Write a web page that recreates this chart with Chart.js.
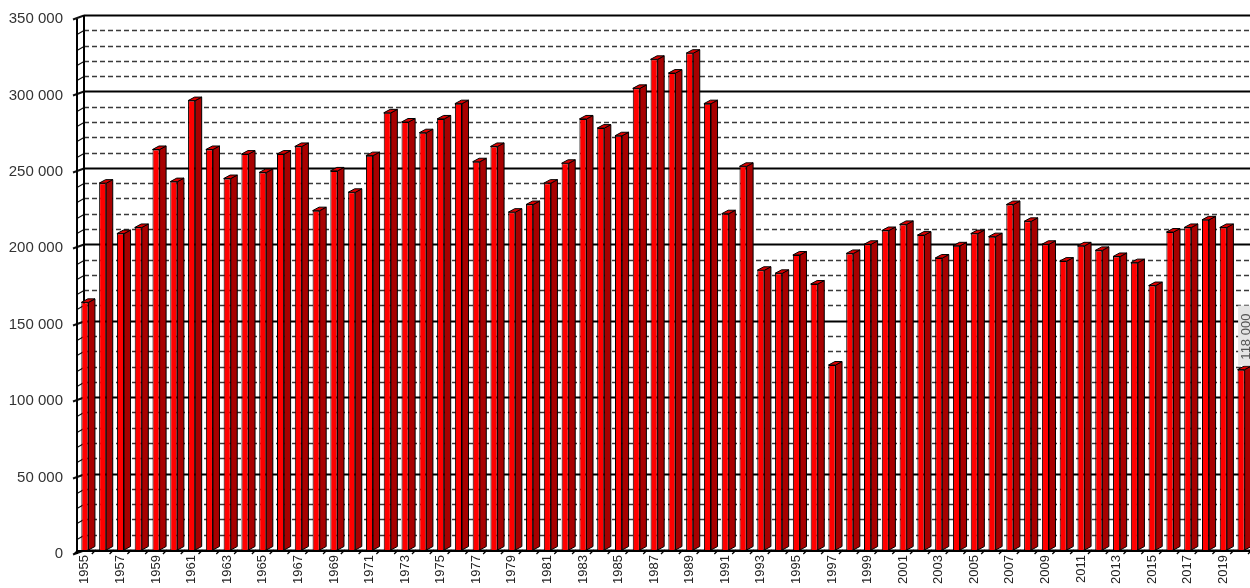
<!DOCTYPE html>
<html>
<head>
    <meta charset="utf-8">
    <title>Yearly totals 1955-2020</title>
    <script src="https://cdn.jsdelivr.net/npm/chart.js"></script>
    <style>
        html, body { margin: 0; padding: 0; background: #fff; overflow: hidden; }
        #wrap { width: 1250px; height: 588px; overflow: hidden; }
    </style>
</head>
<body>
    <div id="wrap"><canvas id="barChart" width="1250" height="588"></canvas></div>

    <script>
        const years = [
            '1955', '1956', '1957', '1958', '1959', '1960', '1961', '1962', '1963', '1964',
            '1965', '1966', '1967', '1968', '1969', '1970', '1971', '1972', '1973', '1974',
            '1975', '1976', '1977', '1978', '1979', '1980', '1981', '1982', '1983', '1984',
            '1985', '1986', '1987', '1988', '1989', '1990', '1991', '1992', '1993', '1994',
            '1995', '1996', '1997', '1998', '1999', '2000', '2001', '2002', '2003', '2004',
            '2005', '2006', '2007', '2008', '2009', '2010', '2011', '2012', '2013', '2014',
            '2015', '2016', '2017', '2018', '2019', '2020'
        ];

        const totals = [
            162000, 240000, 207000, 211000, 262000, 241000, 294000, 262000, 243000, 259000,
            247000, 259000, 264000, 222000, 248000, 234000, 258000, 286000, 280000, 273000,
            282000, 292000, 254000, 264000, 221000, 226000, 240000, 253000, 282000, 276000,
            271000, 302000, 321000, 312000, 325000, 292000, 220000, 251000, 183000, 181000,
            193000, 174000, 121000, 194000, 200000, 209000, 213000, 206000, 191000, 199000,
            207000, 205000, 226000, 215000, 200000, 189000, 199000, 196000, 192000, 188000,
            173000, 208000, 211000, 216000, 211000, 118000
        ];

        // only the last bar carries a value label
        const labelledIndex = [65];

        const yMin = 0;
        const yMax = 350000;
        const yMinorStep = 10000;
        const yMajorStep = 50000;

        function fmt(v) {
            return String(v).replace(/\B(?=(\d{3})+(?!\d))/g, ' ');
        }

        const DEPTH_X = 6.5;
        const DEPTH_Y = 3.5;

        // back wall, gridlines, floor
        const wallPlugin = {
            id: 'wall3d',
            beforeDatasetsDraw(chart) {
                const { ctx, chartArea: a, scales: { x, y } } = chart;
                const frontX = a.left + 1;
                const wallX = a.left + 8;
                ctx.save();
                y.ticks.forEach(t => {
                    const py = Math.round(y.getPixelForValue(t.value)) + 0.5;
                    const major = t.value % yMajorStep === 0;
                    ctx.beginPath();
                    if (major) {
                        ctx.setLineDash([]);
                        ctx.lineWidth = 2;
                        ctx.strokeStyle = '#000';
                    } else {
                        ctx.setLineDash([5, 3]);
                        ctx.lineWidth = 1.5;
                        ctx.strokeStyle = '#3a3a3a';
                    }
                    ctx.moveTo(wallX, py);
                    ctx.lineTo(a.right, py);
                    ctx.stroke();

                    // slanted tick on the side wall
                    ctx.setLineDash([]);
                    ctx.beginPath();
                    ctx.lineWidth = major ? 2 : 1.3;
                    ctx.strokeStyle = '#111';
                    ctx.moveTo(frontX - (major ? 4 : 0), py + 4);
                    ctx.lineTo(wallX, py);
                    ctx.stroke();
                });

                // wall edges
                ctx.lineWidth = 2;
                ctx.strokeStyle = '#000';
                ctx.beginPath();
                ctx.moveTo(frontX, a.top + 4);
                ctx.lineTo(frontX, a.bottom + 4);
                ctx.moveTo(wallX, a.top);
                ctx.lineTo(wallX, a.bottom);
                ctx.stroke();

                // floor line and category marks
                const py0 = y.getPixelForValue(0);
                ctx.beginPath();
                ctx.moveTo(frontX, py0 + 1);
                ctx.lineTo(a.right, py0 + 1);
                ctx.stroke();
                const slot = (a.right - a.left) / years.length;
                ctx.lineWidth = 1.3;
                ctx.beginPath();
                for (let i = 0; i <= years.length; i++) {
                    const bx = x.getPixelForValue(i) - slot / 2;
                    ctx.moveTo(bx + 2, py0);
                    ctx.lineTo(bx - 2, py0 + 4);
                }
                ctx.stroke();
                ctx.restore();
            },
            afterDatasetsDraw(chart) {
                const { ctx } = chart;
                const meta = chart.getDatasetMeta(0);
                ctx.save();
                ctx.lineWidth = 1;
                ctx.strokeStyle = '#000';
                ctx.lineJoin = 'round';
                meta.data.forEach(el => {
                    const { x: cx, y: top, base, width } = el.getProps(['x', 'y', 'base', 'width'], true);
                    const xl = cx - width / 2;
                    const xr = cx + width / 2;

                    // side face
                    ctx.beginPath();
                    ctx.moveTo(xr, top);
                    ctx.lineTo(xr + DEPTH_X, top - DEPTH_Y);
                    ctx.lineTo(xr + DEPTH_X, base - DEPTH_Y);
                    ctx.lineTo(xr, base);
                    ctx.closePath();
                    ctx.fillStyle = '#a80000';
                    ctx.fill();
                    ctx.stroke();

                    // top face
                    ctx.beginPath();
                    ctx.moveTo(xl, top);
                    ctx.lineTo(xl + DEPTH_X, top - DEPTH_Y);
                    ctx.lineTo(xr + DEPTH_X, top - DEPTH_Y);
                    ctx.lineTo(xr, top);
                    ctx.closePath();
                    ctx.fillStyle = '#dd0000';
                    ctx.fill();
                    ctx.stroke();
                });

                // value label, rotated
                labelledIndex.forEach(i => {
                    const el = meta.data[i];
                    const text = fmt(totals[i]);
                    ctx.save();
                    ctx.translate(el.x + 5, el.y - 6);
                    ctx.rotate(-Math.PI / 2);
                    ctx.font = '13px "Liberation Sans", Arial, sans-serif';
                    const tw = ctx.measureText(text).width;
                    ctx.fillStyle = '#e4e4e4';
                    ctx.fillRect(-2, -8, tw + 14, 16);
                    ctx.fillStyle = '#555';
                    ctx.textBaseline = 'middle';
                    ctx.textAlign = 'left';
                    ctx.fillText(text, 4, 0);
                    ctx.restore();
                });
                ctx.restore();
            }
        };

        const ctx = document.getElementById('barChart').getContext('2d');
        new Chart(ctx, {
            type: 'bar',
            data: {
                labels: years,
                datasets: [{
                    data: totals,
                    backgroundColor: '#ff0000',
                    borderColor: '#000',
                    borderWidth: 1,
                    barPercentage: 0.4,
                    categoryPercentage: 1
                }]
            },
            options: {
                responsive: false,
                animation: false,
                devicePixelRatio: 1,
                layout: { padding: { top: 15, right: 0, left: 0, bottom: 0 } },
                plugins: {
                    legend: { display: false },
                    tooltip: { enabled: false }
                },
                scales: {
                    x: {
                        offset: true,
                        grid: { display: false, drawTicks: false },
                        border: { display: false },
                        afterFit: s => {
                            s.height = 38;
                            s.paddingLeft = 0;
                            s.paddingRight = 0;
                        },
                        ticks: {
                            autoSkip: false,
                            maxRotation: 90,
                            minRotation: 90,
                            padding: 5,
                            color: '#222',
                            font: { family: '"Liberation Sans", Arial, sans-serif', size: 13 },
                            callback: (v, i) => (i % 2 === 0 ? years[i] : '')
                        }
                    },
                    y: {
                        min: yMin,
                        max: yMax,
                        grid: { display: false, drawTicks: false },
                        border: { display: false },
                        afterFit: s => {
                            s.width = 76;
                            s.paddingTop = 0;
                            s.paddingBottom = 0;
                        },
                        // one tick every 10 000 (Chart.js would thin them out otherwise)
                        afterBuildTicks: s => {
                            const t = [];
                            for (let v = yMin; v <= yMax; v += yMinorStep) t.push({ value: v });
                            s.ticks = t;
                        },
                        ticks: {
                            autoSkip: false,
                            padding: 13,
                            labelOffset: 4,
                            color: '#333',
                            font: { family: '"Liberation Sans", Arial, sans-serif', size: 15 },
                            callback: v => (v % yMajorStep === 0 ? fmt(v) : '')
                        }
                    }
                }
            },
            plugins: [wallPlugin]
        });
    </script>
</body>
</html>
